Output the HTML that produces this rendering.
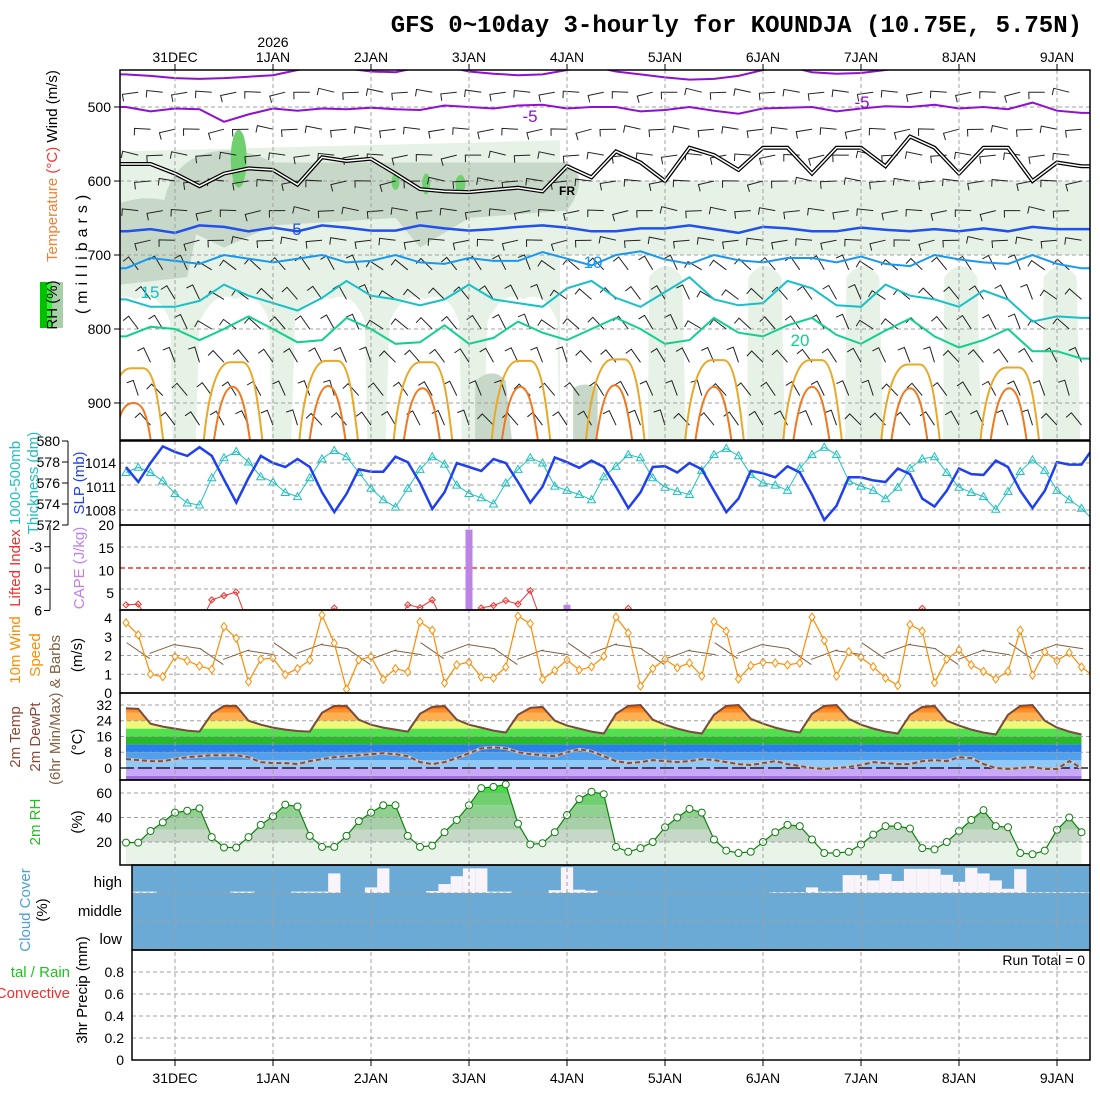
<!DOCTYPE html>
<html><head><meta charset="utf-8"><title>GFS meteogram KOUNDJA</title>
<style>
html,body{margin:0;padding:0;background:#fff;}
svg{display:block;font-family:"Liberation Sans",sans-serif;}
</style></head>
<body>
<svg id="chart" xmlns="http://www.w3.org/2000/svg" width="1100" height="1100" viewBox="0 0 1100 1100">
<rect x="0" y="0" width="1100" height="1100" fill="#fff"/>
<text x="1082" y="32" text-anchor="end" font-family="Liberation Mono, monospace" font-weight="bold" font-size="24">GFS 0~10day 3-hourly for KOUNDJA (10.75E, 5.75N)</text>
<g id="layer"></g>
</svg>
<script>
// ---------- data ----------
const dayLabels = ["31DEC","1JAN","2JAN","3JAN","4JAN","5JAN","6JAN","7JAN","8JAN","9JAN"];
const slp = [1013.5,1011.6,1014,1016.1,1015.4,1014.9,1016,1014.9,1011.9,1009,1012.1,1014.9,1014,1013.5,1014.5,1013.5,1010.3,1007.8,1010.1,1013.2,1012.9,1012.9,1014.8,1014.1,1011.5,1008.2,1010.3,1014,1013.5,1013,1014.5,1014,1011.6,1009,1011,1014.7,1014.1,1013.4,1014.3,1013.5,1011,1008.3,1010.3,1013.5,1013.6,1012.8,1014,1013.2,1010.5,1007.8,1009.5,1013,1012.7,1012.2,1013.6,1012.8,1010,1006.8,1008.6,1012.2,1012.2,1011.8,1011.6,1013.3,1012.6,1009.5,1008.5,1010.5,1013.3,1012.6,1012.5,1014.3,1013.5,1010.5,1008.3,1010.5,1014.1,1013.8,1013.8,1016];
const thick = [577,577.5,577,576.2,575,574.1,573.9,576.5,578.4,579,578,576.6,576.1,575.1,574.7,576.5,578.3,579.1,578.5,577,575.5,574.4,573.7,575.5,577.3,578.5,577.8,575.8,575,574.6,574,576,577.3,578.4,577.9,575.7,575.3,574.9,574.4,576.6,577.6,578.7,578.4,576.5,575.6,575.2,574.9,577.2,578.7,579.3,578.6,576.8,576.0,575.8,575.3,577.4,578.7,579.4,578.7,576.2,575.7,575.3,574.5,575.6,577.4,578.3,578.5,577.0,575.6,575.1,574.7,573.5,575.2,577.1,578.2,577.2,575.3,574.4,573.6,572.4];
const liftedIndex = [5.2,5.1,8,9,9,9,8,4.5,3.9,3.4,8,9,9,9,9,9,8,5.65,8,9,9,9,8,5.2,5.6,4.5,8,9,8,5.65,5.3,4.6,5.1,3.2,8,9,9,9,9,9,8,5.7,8,9,9,9,9,9,9,9,9,9,9,9,9,9,9,9,9,9,9,9,9,9,8,5.7,8,9,9,9,9,9,9,9,9,9,9,9,9,9];
const cape = [0,0,0,0,0,0,0,0,0,0,0,0,0,0,0,0,0,0,0,0,0,0,0,0,0,0,0,0,19,0,0,0,0,0,0,0,2.4,0,0,0,0,0,0,0,0,0,0,0,0,0,0,0,0,0,0,0,0,0,0,0,0,0,0,0,0,0,0,0,0,0,0,0,0,0,0,0,0,0,0,0];
const wind10 = [3.75,3.1,1.0,0.87,1.94,1.72,1.44,1.26,3.54,2.92,0.6,1.8,1.86,0.98,1.3,1.75,4.16,2.66,0.2,1.76,1.94,0.73,1.3,1.12,3.8,3.35,0.53,1.5,1.65,0.85,0.8,1.38,4.1,3.7,0.73,1.2,1.76,1.23,1.4,1.95,4.05,3.2,0.37,1.3,1.8,1.35,1.6,0.9,3.8,3.3,0.75,1.46,1.64,1.6,1.5,1.6,4.05,2.8,0.9,2.2,1.9,1.4,0.8,0.4,3.65,3.3,0.55,1.8,2.3,1.5,1.15,0.75,1.15,3.35,0.95,2.2,1.72,2.15,1.38,0.9];
const temp2m = [30.3,30.0,22.5,21.0,20.0,19.0,18.5,27.5,31.5,31.5,24.0,22.0,20.5,19.5,18.8,18.5,28.0,31.5,31.5,24.5,22.0,20.5,19.5,18.5,27.5,31.0,31.5,24.5,22.0,20.5,19.0,18.0,27.0,30.5,31.0,24.0,21.5,20.0,18.5,17.5,27.5,31.5,32.0,24.5,22.0,20.0,18.5,17.5,27.0,31.5,32.0,25.0,22.5,20.5,19.0,18.0,27.5,31.5,32.0,25.0,22.0,20.0,18.5,17.5,27.0,31.0,31.5,24.0,21.5,19.5,18.0,17.0,27.0,31.5,32.0,24.0,20.5,18.5,17.0,16.5];
const dew2m = [4.5,4.0,3.5,3.5,4.5,5.5,6.0,6.5,6.5,6.5,5.5,3.0,2.5,2.5,2.0,3.5,4.5,5.5,6.0,6.5,7.0,7.5,7.0,6.0,3.0,2.0,3.0,5.0,7.5,10.0,10.5,10.0,8.0,7.0,6.5,6.0,8.0,9.5,8.5,6.0,3.5,2.5,3.0,4.0,3.5,3.0,3.5,4.5,4.0,3.0,2.0,1.5,2.5,3.5,2.0,1.0,0.0,-0.5,0.0,0.5,1.5,3.0,2.5,2.0,2.0,3.5,4.0,3.5,5.5,5.0,2.0,0.0,-0.5,0.0,0.5,-0.5,-0.5,3.5,0.0,-1.0];
const rh2m = [19.5,19.5,29,36,44,45.5,47.5,24,15.5,15.5,24,34,41,50.5,49,25,16,16,25,37,44,50,50,25,16,17,28,38,50,64,65,67,35,18,19,28,42,55,61,59,16,12,15,20,32,40,47,44,22,13,11,12,20,28,34,33,22,11,11,12,18,26,33,33,31,15,14,20,29,38,46,33,32,11,10,13,30,40,28,32];
const highCloud = [100,95,95,100,100,100,100,100,100,95,95,100,100,100,95,95,95,30,100,100,80,12,100,100,100,93,68,40,12,12,95,95,100,100,100,90,8,88,92,100,100,100,100,100,100,100,100,100,100,100,100,100,100,97,97,97,80,95,95,36,36,55,32,57,14,14,14,35,60,10,30,55,85,15,97,97,97,97,97,97];
const precip = [0,0,0,0,0,0,0,0,0,0,0,0,0,0,0,0,0,0,0,0,0,0,0,0,0,0,0,0,0,0,0,0,0,0,0,0,0,0,0,0,0,0,0,0,0,0,0,0,0,0,0,0,0,0,0,0,0,0,0,0,0,0,0,0,0,0,0,0,0,0,0,0,0,0,0,0,0,0,0,0];
const isoM10 = [456,458,461,462,461,459,457,450,445,448,452,453,446,445,452,455,457,456,450,445,452,456,460,463,462,458,450,445,453,455,454,450,445,444,446,445,444,445,445,445];
const isoM5 = [500,506,502,503,520,510,502,505,502,503,501,503,504,498,500,502,498,497,502,500,500,506,504,500,505,509,502,501,500,506,502,499,500,497,502,500,503,494,505,508];
const iso0 = [577,577,590,607,590,583,585,605,568,573,570,590,611,614,615,612,609,614,580,595,560,575,600,555,565,585,555,555,590,555,555,580,540,555,590,555,555,600,575,580];
const iso5 = [668,665,670,660,662,668,663,668,660,663,667,667,660,664,667,665,662,660,663,668,668,664,664,660,665,670,662,664,668,668,663,666,668,665,668,664,668,662,665,665];
const iso10 = [718,704,708,712,700,705,710,705,700,710,708,700,710,712,704,708,708,696,705,714,700,695,706,712,700,707,710,704,704,710,702,712,715,700,706,710,712,700,712,718];
const iso15 = [760,770,770,762,740,755,765,775,758,735,755,760,768,760,740,760,765,770,745,735,758,770,750,730,760,768,765,735,745,768,770,740,755,760,770,748,760,790,783,785];
const iso20 = [810,797,800,815,800,783,800,818,815,785,800,820,818,795,820,812,790,805,815,800,785,800,820,815,785,805,810,795,785,808,820,802,786,810,825,815,800,830,830,840];
const arcCenter = [0.8,8.9,16.7,24.4,32.4,40.1,48.2,56.2,64.2,72.3];
const arc25Top = [853,845,843,845,843,841,842,842,848,852];
const arc30Top = [900,878,877,880,878,876,878,878,880,880];

// ---------- helpers ----------
const NS="http://www.w3.org/2000/svg";
const layer=document.getElementById('layer');
function mk(tag,attrs,parent){const e=document.createElementNS(NS,tag);for(const k in attrs)e.setAttribute(k,attrs[k]);(parent||layer).appendChild(e);return e;}
const X=i=>126+i*12.25;
const XL=120, XR=1090;
const N=79;
const yP=p=>70+(p-450)*0.74;
const ySLP=v=>463+(1014-v)*7.92;
const yTh=v=>441+(580-v)*10.5;
const yLI=v=>568+v*7.08;
const yCAPE=v=>615.7-v*4.53;
const yW=v=>693-v*18.75;
const yT=v=>768-v*1.97;
const yRH=v=>866.5-v*1.225;
const yPr=v=>1060-v*110;
const panels={p1:[70,440],p2:[441,525],p3:[525,610],p4:[610,693],p5:[693,780],p6:[780,865],p7:[865,950],p8:[950,1060]};
const defs=mk('defs',{});
for(const k in panels){const c=mk('clipPath',{id:'clip-'+k},defs);const l=(k==='p7'||k==='p8')?132:XL;mk('rect',{x:l,y:panels[k][0],width:XR-l,height:panels[k][1]-panels[k][0]},c);}
function grp(name,clip){const g=mk('g',{'clip-path':clip?'url(#clip-'+clip+')':''});return g;}
function hgrid(g,ys,l){ys.forEach(y=>{const ln=mk('line',{x1:l||XL,x2:XR,y1:y,y2:y,stroke:'#a0a0a0','stroke-dasharray':'4,3','stroke-width':1},g);});}
function poly(g,pts,attrs){const e=mk('polyline',Object.assign({points:pts.map(p=>p[0].toFixed(1)+','+p[1].toFixed(1)).join(' '),fill:'none'},attrs),g);return e;}
function ylabel(txt,x,y,anchor,color,size,name){const t=mk('text',{x:x,y:y,'text-anchor':anchor||'end','font-size':size||14,fill:color||'#000'});t.textContent=txt;return t;}
function vtext(parts,x,cy,size,name,spacing){const t=mk('text',{x:0,y:0,transform:`translate(${x},${cy}) rotate(-90)`,'text-anchor':'middle','font-size':size||15});if(spacing)t.setAttribute('letter-spacing',spacing);parts.forEach(p=>{const s=mk('tspan',{fill:p[1]},t);s.textContent=p[0];});return t;}

// ---------- panel 1 ----------
const g1=grp('upper-air-panel','p1');
const lg='#e6f2e6';
poly(g1,[[XL,yP(560)],[560,yP(545)],[560,yP(600)],[XR,yP(600)],[XR,yP(700)],[560,yP(700)],[560,yP(950)],[XL,yP(950)]],{fill:lg,stroke:'none'});
arcCenter.forEach((c,k)=>{
  if(X(c)<560){const e=mk('path',{d:`M${X(c-3.2)},${yP(950)} L${X(c-2.9)},${yP(790)} Q${X(c-1.6)},${yP(745)} ${X(c)},${yP(760)} Q${X(c+1.8)},${yP(745)} ${X(c+2.8)},${yP(790)} L${X(c+3.0)},${yP(950)} Z`,fill:'#fff'},g1);}
  else{const e=mk('path',{d:`M${X(c+2.5)},${yP(950)} L${X(c+2.6)},${yP(730)} Q${X(c+4)},${yP(700)} ${X(c+5.3)},${yP(730)} L${X(c+5.6)},${yP(950)} Z`,fill:lg},g1);}
});
const dk='#c8d8c8';
mk('path',{d:`M${X(3)},${yP(650)} C${X(3)},${yP(560)} ${X(8)},${yP(540)} ${X(12)},${yP(575)} L${X(36)},${yP(575)} Q${X(38)},${yP(595)} ${X(36)},${yP(640)} L${X(28)},${yP(650)} L${X(24)},${yP(690)} L${X(22)},${yP(650)} L${X(12)},${yP(660)} L${X(8)},${yP(690)} Z`,fill:dk},g1);
mk('path',{d:`M${XL},${yP(630)} Q${X(3)},${yP(610)} ${X(6)},${yP(650)} L${X(5)},${yP(730)} L${XL},${yP(740)} Z`,fill:dk},g1);
mk('path',{d:`M${X(28.5)},${yP(950)} L${X(28.5)},${yP(870)} Q${X(30)},${yP(850)} ${X(31)},${yP(870)} L${X(31.5)},${yP(950)} Z`,fill:dk},g1);
mk('path',{d:`M${X(36.5)},${yP(950)} L${X(36.5)},${yP(880)} Q${X(37.5)},${yP(870)} ${X(38.5)},${yP(880)} L${X(38.5)},${yP(950)} Z`,fill:dk},g1);
[[9.2,570,8,35],[22,601,4,7],[24.5,604,4,10],[27.3,604,5,8]].forEach(s=>{const e=mk('ellipse',{cx:X(s[0]),cy:yP(s[1]),rx:s[2],ry:s[3]*0.74+3,fill:'#70d070'},g1);});
hgrid(g1,[500,600,700,800,900].map(yP));
const barbRows=[480,530,565,600,640,680,720,760,800,845,890,930];
barbRows.forEach((p,r)=>{for(let i=1;i<N;i+=2){const x=X(i+(r%2)),y=yP(p);let ang=(p<700)?(180+((i*37+r*11)%30)-15):(p<820? 210+((i*23)%40):225+((i*17+r*7)%30));const a=ang*Math.PI/180;const x2=x+16*Math.cos(a),y2=y+16*Math.sin(a);
 const b=mk('path',{d:`M${x},${y} L${x2.toFixed(1)},${y2.toFixed(1)} l${(7*Math.cos(a-1.6)).toFixed(1)},${(7*Math.sin(a-1.6)).toFixed(1)}`,stroke:'#222',fill:'none','stroke-width':1},g1);
 }});
function arcPath(c,p,w){return w?`M${X(c-2.6)},${yP(960)} C${X(c-2.3)},${yP(900)} ${X(c-1.6)},${yP(p)} ${X(c-0.4)},${yP(p)} L${X(c+0.6)},${yP(p)} C${X(c+1.5)},${yP(p)} ${X(c+1.9)},${yP(900)} ${X(c+2.3)},${yP(960)}`:
 `M${X(c-1.8)},${yP(960)} C${X(c-1.4)},${yP(910)} ${X(c-0.9)},${yP(p)} ${X(c-0.2)},${yP(p)} C${X(c+0.5)},${yP(p)} ${X(c+0.9)},${yP(910)} ${X(c+1.3)},${yP(960)}`;}
arcCenter.forEach((c,k)=>{
 const a=mk('path',{d:arcPath(c,arc25Top[k],1),stroke:'#e8a828',fill:'none','stroke-width':2},g1);
 const b=mk('path',{d:arcPath(c,arc30Top[k],0),stroke:'#f07820',fill:'none','stroke-width':2},g1);
});
function iso(arr,color,w,name){const pts=arr.map((p,j)=>[X(j*2),yP(p)]);pts.push([XR,yP(arr[arr.length-1])]);pts.unshift([XL,yP(arr[0])]);const e=poly(g1,pts,{stroke:color,'stroke-width':w});return e;}
iso(isoM10,'#9010d0',2,'isotherm-minus10');
iso(isoM5,'#9010d0',2,'isotherm-minus5');
iso(iso0,'#000',4,'isotherm-0-outer');
iso(iso0,'#fff',1.5,'isotherm-0-inner');
iso(iso5,'#2050f0',2.5,'isotherm-5');
iso(iso10,'#1898f0',2,'isotherm-10');
iso(iso15,'#18c0c8',2,'isotherm-15');
iso(iso20,'#10d090',2,'isotherm-20');
[['-5',530,122,'#9010d0'],['-5',862,108,'#9010d0'],['5',297,235,'#2050f0'],['10',593,268,'#1898f0'],['15',150,298,'#18c0c8'],['20',800,346,'#10d090'],['FR',567,195,'#000']].forEach(l=>{const t=mk('text',{x:l[1],y:l[2],'font-size':l[0]==='FR'?12:17,fill:l[3],'text-anchor':'middle','font-weight':l[0]==='FR'?'bold':'normal'},g1);t.textContent=l[0];});
// ---------- panel 2 ----------
const g2=grp('slp-thickness-panel','p2');
hgrid(g2,[463,485,510]);
const thL=poly(g2,thick.slice(0,N+1).map((v,i)=>[X(i),yTh(v)]),{stroke:'#20c0c0','stroke-width':1});
thick.slice(0,N+1).forEach((v,i)=>{const x=X(i),y=yTh(v);const t=mk('path',{d:`M${x},${y-4} L${x+4},${y+3} L${x-4},${y+3} Z`,fill:'none',stroke:'#20c0c0'},g2);});
const sl=poly(g2,slp.slice(0,N+1).map((v,i)=>[X(i),ySLP(v)]),{stroke:'#2040f0','stroke-width':2.5});
// ---------- panel 3 ----------
const g3=grp('cape-li-panel','p3');
hgrid(g3,[547,589]);
mk('line',{x1:XL,x2:XR,y1:568,y2:568,stroke:'#ff3030','stroke-dasharray':'5,3','stroke-width':1.5},g3);
cape.forEach((v,i)=>{if(v>0){const y=Math.max(yCAPE(v),525);const r=mk('rect',{x:X(i)-3.5,y:y,width:7,height:610-y,fill:'#c080f0'},g3);}});
const li=poly(g3,liftedIndex.slice(0,N+1).map((v,i)=>[X(i),yLI(v)]),{stroke:'#f03030','stroke-width':1});
liftedIndex.forEach((v,i)=>{if(v<6.5){const x=X(i),y=yLI(v);const d=mk('path',{d:`M${x},${y-3} L${x+3},${y} L${x},${y+3} L${x-3},${y} Z`,fill:'none',stroke:'#f03030'},g3);}});
// ---------- panel 4 ----------
const g4=grp('wind10m-panel','p4');
hgrid(g4,[yW(3),yW(2),yW(1)]);
for(let i=1;i<N;i+=2){const x=X(i),y=yW(2.1)-((i*7)%12)+4;const a=(i%3===0)?-0.35:(i%3===1?0.6:0.15);const b=mk('path',{d:`M${x-14*Math.cos(a)},${y-14*Math.sin(a)} L${x+14*Math.cos(a)},${y+14*Math.sin(a)}`,stroke:'#806040','stroke-width':1},g4);}
const wl=poly(g4,wind10.slice(0,N+1).map((v,i)=>[X(i),yW(v)]),{stroke:'#ff8c00','stroke-width':1.2});
wind10.slice(0,N+1).forEach((v,i)=>{const x=X(i),y=yW(v);const d=mk('path',{d:`M${x},${y-4} L${x+3},${y} L${x},${y+4} L${x-3},${y} Z`,fill:'#fff',stroke:'#ff8c00'},g4);});
// ---------- panel 5 ----------
const g5=grp('temperature-panel','p5');
const tc=mk('clipPath',{id:'tfill'},defs);
mk('polygon',{points:temp2m.slice(0,N).map((v,i)=>X(i)+','+yT(v)).join(' ')+` ${X(N-1)},781 ${X(0)},781`},tc);
const tb=mk('g',{'clip-path':'url(#tfill)'},g5);
const tEdges=[-8,-4,0,4,8,12,16,20,24,28,30,45];const tCols=['#a070e0','#c8a8f8','#90c8f8','#50a0f0','#2880e8','#28b828','#50e050','#f0f878','#ffb050','#ff9028','#ff6a00'];
for(let k=0;k<tCols.length;k++){mk('rect',{x:XL,width:XR-XL,y:yT(tEdges[k+1]),height:yT(tEdges[k])-yT(tEdges[k+1]),fill:tCols[k]},tb);}
hgrid(g5,[yT(32),yT(24),yT(16),yT(8)]);
mk('line',{x1:XL,x2:XR,y1:yT(0),y2:yT(0),stroke:'#000','stroke-dasharray':'14,4','stroke-width':1.2},g5);
poly(g5,dew2m.slice(0,N).map((v,i)=>[X(i),yT(v)]),{stroke:'#c8c8c8','stroke-width':3});
const dw=poly(g5,dew2m.slice(0,N).map((v,i)=>[X(i),yT(v)]),{stroke:'#8a4a3a','stroke-width':2,'stroke-dasharray':'5,3'});
const tl=poly(g5,temp2m.slice(0,N).map((v,i)=>[X(i),yT(v)]),{stroke:'#7a4a3a','stroke-width':2});
// ---------- panel 6 ----------
const g6=grp('rh-panel','p6');
const rc=mk('clipPath',{id:'rhfill'},defs);
mk('polygon',{points:rh2m.slice(0,N).map((v,i)=>X(i)+','+yRH(v)).join(' ')+` ${X(N-1)},866 ${X(0)},866`},rc);
const rb=mk('g',{'clip-path':'url(#rhfill)'},g6);
const rEdges=[-5,20,30,40,50,60,100];const rCols=['#e8f4e8','#c8d8c8','#a8d0a8','#90d090','#70d070','#40e040'];
for(let k=0;k<rCols.length;k++){mk('rect',{x:XL,width:XR-XL,y:yRH(rEdges[k+1]),height:yRH(rEdges[k])-yRH(rEdges[k+1]),fill:rCols[k]},rb);}
hgrid(g6,[yRH(60),yRH(40),yRH(20)]);
const rl=poly(g6,rh2m.slice(0,N).map((v,i)=>[X(i),yRH(v)]),{stroke:'#108010','stroke-width':1.2});
rh2m.slice(0,N).forEach((v,i)=>{const c=mk('circle',{cx:X(i),cy:yRH(v),r:3.5,fill:'#fff',stroke:'#108010'},g6);});
// ---------- panel 7 ----------
const g7=grp('cloud-panel','p7');
mk('rect',{x:132,y:865,width:XR-132,height:85,fill:'#6aaad4'},g7);
highCloud.forEach((v,i)=>{const h=(100-v)*0.28;if(h>0.5){const r=mk('rect',{x:X(i)-6.1,y:893-h,width:12.25,height:h,fill:'#f8f4fa'},g7);}});
hgrid(g7,[893,921,949],132);
// ---------- panel 8 ----------
const g8=grp('precip-panel','p8');
hgrid(g8,[0.2,0.4,0.6,0.8].map(yPr),132);
precip.forEach((v,i)=>{if(v>0){const r=mk('rect',{x:X(i)-5,y:yPr(v),width:10,height:1060-yPr(v),fill:'#30d030'},g8);}});
ylabel('Run Total = 0',1085,965,'end','#000',14,'run-total-label');
// ---------- vertical day grid ----------
const gv=grp('day-gridlines','');
dayLabels.forEach((d,k)=>{const x=X(4+8*k);const l=mk('line',{x1:x,x2:x,y1:70,y2:1060,stroke:'#a0a0a0','stroke-dasharray':'4,3'},gv);
 mk('line',{x1:x,x2:x,y1:64,y2:70,stroke:'#000'},gv);mk('line',{x1:x,x2:x,y1:1060,y2:1066,stroke:'#000'},gv);
 ylabel(d,x,62,'middle','#000',14,'top-date-label');ylabel(d,x,1083,'middle','#000',14,'bottom-date-label');});
ylabel('2026',X(12),47,'middle','#000',14,'year-label');
// ---------- frames ----------
const gf=grp('panel-frames','');
for(const k in panels){const l=(k==='p7'||k==='p8')?132:XL;mk('rect',{x:l,y:panels[k][0],width:XR-l,height:panels[k][1]-panels[k][0],fill:'none',stroke:'#000','stroke-width':1.5},gf);}
// ---------- axis labels ----------
const ga=grp('axis-labels','');
[500,600,700,800,900].forEach(p=>{ylabel(String(p),111,yP(p)+5,'end');mk('line',{x1:114,x2:XL,y1:yP(p),y2:yP(p),stroke:'#000'},ga);});
[580,578,576,574,572].forEach(v=>{ylabel(String(v),60,yTh(v)+5,'end');mk('line',{x1:62,x2:68,y1:yTh(v),y2:yTh(v),stroke:'#000'},ga);});
mk('line',{x1:68,x2:68,y1:441,y2:525,stroke:'#000'},ga);
[1014,1011,1008].forEach(v=>{ylabel(String(v),116,ySLP(v)+5,'end');});
[-3,0,3,6].forEach(v=>{ylabel(String(v),42,yLI(v)+5,'end');mk('line',{x1:44,x2:50,y1:yLI(v),y2:yLI(v),stroke:'#000'},ga);});
mk('line',{x1:50,x2:50,y1:525,y2:610,stroke:'#000'},ga);
[20,15,10,5].forEach(v=>{ylabel(String(v),114,yCAPE(v)+5,'end');});
[4,3,2,1,0].forEach(v=>{ylabel(String(v),112,yW(v)+5,'end');});
[32,24,16,8,0].forEach(v=>{ylabel(String(v),112,yT(v)+5,'end');});
[60,40,20].forEach(v=>{ylabel(String(v),112,yRH(v)+5,'end');});
ylabel('high',122,887,'end','#000',15);ylabel('middle',122,916,'end','#000',15);ylabel('low',122,944,'end','#000',15);
[0.8,0.6,0.4,0.2,0].forEach(v=>{ylabel(String(v),124,yPr(v)+5,'end');});
vtext([['Temperature ','#f08030'],['(°C) ','#ff3030'],['Wind (m/s)','#000']],57,166,15,'upper-panel-title');
const rhb=mk('rect',{x:40,y:282,width:23,height:46,fill:'#a8d0a8'},ga);
mk('rect',{x:40,y:282,width:7,height:46,fill:'#00c000'},ga);mk('rect',{x:47,y:282,width:5,height:46,fill:'#30f030'},ga);
vtext([['RH (%)','#000']],57,305,15,'rh-legend-label');
vtext([['(millibars)','#000']],87,252,16,'pressure-axis-title','5');
vtext([['1000-500mb','#20c0c0']],20,483,15,'thickness-title-1');
vtext([['Thickness (dm)','#20c0c0']],38,483,15,'thickness-title-2');
vtext([['SLP (mb)','#2040f0']],84,483,15,'slp-title');
vtext([['Lifted Index','#f03030']],20,568,15,'lifted-index-title');
vtext([['CAPE (J/kg)','#c080f0']],84,568,15,'cape-title');
vtext([['10m Wind','#ff8c00']],20,650,15,'wind-title-1');
vtext([['Speed','#ff8c00']],40,655,15,'wind-title-2');
vtext([['(6hr Min/Max) & Barbs','#806040']],60,710,15,'min-max-barbs-title');
vtext([['(m/s)','#000']],82,655,15,'wind-unit');
vtext([['2m Temp','#8a4a3a']],20,737,15,'temp-title');
vtext([['2m DewPt','#8a4a3a']],40,737,15,'dewpoint-title');
vtext([['(°C)','#000']],82,742,15,'temp-unit');
vtext([['2m RH','#20c020']],40,822,15,'rh-title');
vtext([['(%)','#000']],82,822,15,'rh-unit');
vtext([['Cloud Cover','#4aa0d8']],30,910,15,'cloud-title');
vtext([['(%)','#000']],47,910,15,'cloud-unit');
vtext([['3hr Precip (mm)','#000']],87,990,15,'precip-title');
ylabel('tal / Rain',70,977,'end','#20c020',15,'precip-total-rain-label');
ylabel('Convective',70,998,'end','#f03030',15,'precip-convective-label');
</script>
</body></html>
